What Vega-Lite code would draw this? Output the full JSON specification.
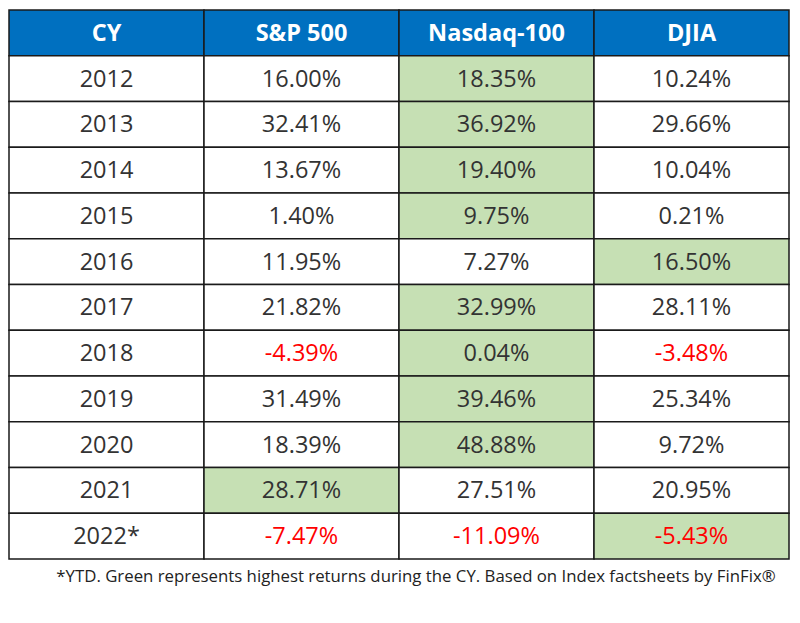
{
  "$schema": "https://vega.github.io/schema/vega-lite/v6.json",
  "width": 780,
  "height": 549,
  "autosize": {"type": "none"},
  "padding": {"left": 9, "top": 10, "right": 11, "bottom": 64},
  "background": "white",
  "config": {"view": {"stroke": null}, "font": "Open Sans"},
  "title": {
    "text": "*YTD. Green represents highest returns during the CY. Based on Index factsheets by FinFix®",
    "orient": "bottom",
    "anchor": "middle",
    "offset": 9,
    "dx": 17,
    "fontSize": 16.8,
    "fontWeight": "normal",
    "font": "Open Sans",
    "color": "#222222"
  },
  "datasets": {
    "returns": [
      {"year": "2012", "index": "S&P 500", "ret": 16.00},
      {"year": "2012", "index": "Nasdaq-100", "ret": 18.35},
      {"year": "2012", "index": "DJIA", "ret": 10.24},
      {"year": "2013", "index": "S&P 500", "ret": 32.41},
      {"year": "2013", "index": "Nasdaq-100", "ret": 36.92},
      {"year": "2013", "index": "DJIA", "ret": 29.66},
      {"year": "2014", "index": "S&P 500", "ret": 13.67},
      {"year": "2014", "index": "Nasdaq-100", "ret": 19.40},
      {"year": "2014", "index": "DJIA", "ret": 10.04},
      {"year": "2015", "index": "S&P 500", "ret": 1.40},
      {"year": "2015", "index": "Nasdaq-100", "ret": 9.75},
      {"year": "2015", "index": "DJIA", "ret": 0.21},
      {"year": "2016", "index": "S&P 500", "ret": 11.95},
      {"year": "2016", "index": "Nasdaq-100", "ret": 7.27},
      {"year": "2016", "index": "DJIA", "ret": 16.50},
      {"year": "2017", "index": "S&P 500", "ret": 21.82},
      {"year": "2017", "index": "Nasdaq-100", "ret": 32.99},
      {"year": "2017", "index": "DJIA", "ret": 28.11},
      {"year": "2018", "index": "S&P 500", "ret": -4.39},
      {"year": "2018", "index": "Nasdaq-100", "ret": 0.04},
      {"year": "2018", "index": "DJIA", "ret": -3.48},
      {"year": "2019", "index": "S&P 500", "ret": 31.49},
      {"year": "2019", "index": "Nasdaq-100", "ret": 39.46},
      {"year": "2019", "index": "DJIA", "ret": 25.34},
      {"year": "2020", "index": "S&P 500", "ret": 18.39},
      {"year": "2020", "index": "Nasdaq-100", "ret": 48.88},
      {"year": "2020", "index": "DJIA", "ret": 9.72},
      {"year": "2021", "index": "S&P 500", "ret": 28.71},
      {"year": "2021", "index": "Nasdaq-100", "ret": 27.51},
      {"year": "2021", "index": "DJIA", "ret": 20.95},
      {"year": "2022*", "index": "S&P 500", "ret": -7.47},
      {"year": "2022*", "index": "Nasdaq-100", "ret": -11.09},
      {"year": "2022*", "index": "DJIA", "ret": -5.43}
    ],
    "headers": [
      {"col": "CY"},
      {"col": "S&P 500"},
      {"col": "Nasdaq-100"},
      {"col": "DJIA"}
    ]
  },
  "resolve": {"scale": {"x": "shared", "y": "shared"}},
  "layer": [
    {
      "data": {"name": "headers"},
      "mark": {"type": "rect", "fill": "#0070C0", "stroke": "#1a1a1a", "strokeWidth": 1.5},
      "encoding": {
        "x": {"field": "col", "type": "nominal", "scale": {"domain": ["CY", "S&P 500", "Nasdaq-100", "DJIA"], "paddingInner": 0, "paddingOuter": 0}, "axis": null},
        "y": {"datum": "CY", "type": "nominal", "scale": {"domain": ["CY", "2012", "2013", "2014", "2015", "2016", "2017", "2018", "2019", "2020", "2021", "2022*"], "paddingInner": 0, "paddingOuter": 0}, "axis": null}
      }
    },
    {
      "data": {"name": "headers"},
      "mark": {"type": "text", "color": "white", "fontSize": 23.5, "fontWeight": "bold", "font": "Open Sans", "baseline": "middle", "align": "center", "dy": 1},
      "encoding": {
        "x": {"field": "col", "type": "nominal"},
        "y": {"datum": "CY", "type": "nominal"},
        "text": {"field": "col"}
      }
    },
    {
      "data": {"name": "returns"},
      "transform": [{"filter": "datum.index == 'S&P 500'"}],
      "mark": {"type": "rect", "fill": "white", "stroke": "#1a1a1a", "strokeWidth": 1.5},
      "encoding": {
        "x": {"datum": "CY", "type": "nominal"},
        "y": {"field": "year", "type": "nominal"}
      }
    },
    {
      "data": {"name": "returns"},
      "transform": [{"filter": "datum.index == 'S&P 500'"}],
      "mark": {"type": "text", "color": "#333333", "fontSize": 23.5, "font": "Open Sans", "baseline": "middle", "align": "center", "dy": 1},
      "encoding": {
        "x": {"datum": "CY", "type": "nominal"},
        "y": {"field": "year", "type": "nominal"},
        "text": {"field": "year"}
      }
    },
    {
      "data": {"name": "returns"},
      "transform": [
        {"joinaggregate": [{"op": "max", "field": "ret", "as": "maxRet"}], "groupby": ["year"]},
        {"calculate": "datum.ret == datum.maxRet", "as": "best"}
      ],
      "mark": {"type": "rect", "stroke": "#1a1a1a", "strokeWidth": 1.5},
      "encoding": {
        "x": {"field": "index", "type": "nominal"},
        "y": {"field": "year", "type": "nominal"},
        "fill": {"condition": {"test": "datum.best", "value": "#C6E0B4"}, "value": "white"}
      }
    },
    {
      "data": {"name": "returns"},
      "transform": [
        {"calculate": "(datum.ret < 0 ? '-' : '') + format(abs(datum.ret), '.2f') + '%'", "as": "label"}
      ],
      "mark": {"type": "text", "fontSize": 23.5, "font": "Open Sans", "baseline": "middle", "align": "center", "dy": 1},
      "encoding": {
        "x": {"field": "index", "type": "nominal"},
        "y": {"field": "year", "type": "nominal"},
        "text": {"field": "label"},
        "color": {"condition": {"test": "datum.ret < 0", "value": "#FF0000"}, "value": "#333333"}
      }
    }
  ]
}
